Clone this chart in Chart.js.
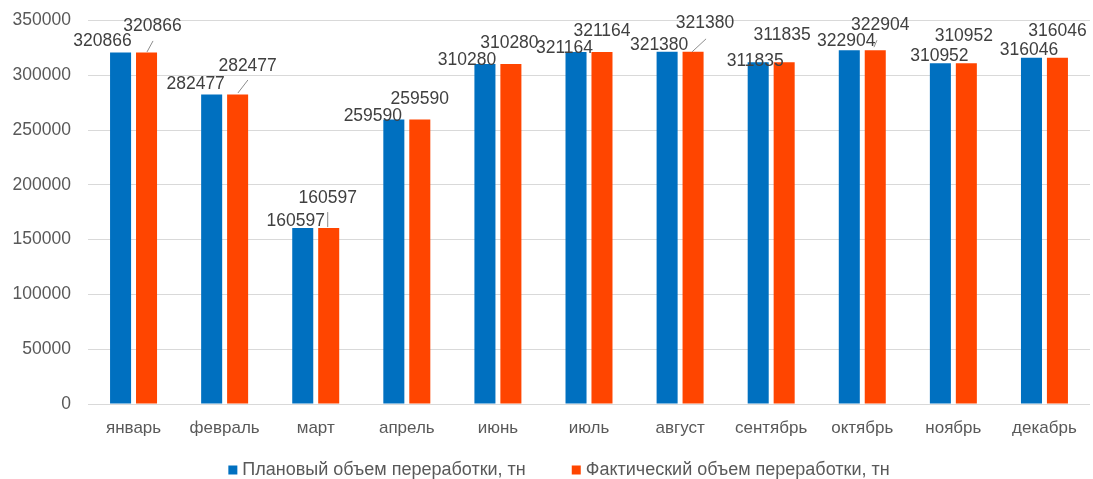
<!DOCTYPE html>
<html lang="ru">
<head>
<meta charset="utf-8">
<title>Объем переработки по месяцам</title>
<script src="https://cdn.jsdelivr.net/npm/chart.js@4.4.1/dist/chart.umd.min.js"></script>
<style>
  html, body { margin: 0; padding: 0; background: #ffffff; }
  #wrap { width: 1093px; height: 479px; position: relative; }
</style>
</head>
<body>
<div id="wrap"><canvas id="chart" width="1093" height="479"></canvas></div>
<script>
// Months shown on the category axis (май is absent in the source table)
const months = ['январь', 'февраль', 'март', 'апрель', 'июнь', 'июль', 'август', 'сентябрь', 'октябрь', 'ноябрь', 'декабрь'];

// Processing volumes, tonnes
const planVolume = [320866, 282477, 160597, 259590, 310280, 321164, 321380, 311835, 322904, 310952, 316046];
const factVolume = [320866, 282477, 160597, 259590, 310280, 321164, 321380, 311835, 322904, 310952, 316046];

// Series names
const seriesNames = ['Плановый объем переработки, тн', 'Фактический объем переработки, тн'];

// Value axis
const yMin = 0;
const yMax = 350000;
const yStep = 50000;

const FONT = '"Liberation Sans", Arial, sans-serif';
const COLORS = ['#0070C0', '#FF4500'];

// Manual label placement (offset of the label centre from the bar top-centre),
// plus optional leader lines, so overlapping labels stay readable.
const labelLayout = [
  // planned series
  {
    offsets: [[-18, -11.5], [-16, -10], [-7, -6.5], [-21, -3], [-18, -4], [-11.5, -4],
              [-8, -7], [-3, -1.5], [-3, -9], [-1, -7], [-2.5, -8]],
    leaders: []
  },
  // actual series
  {
    offsets: [[6, -26.5], [10, -28.5], [-1, -30], [0, -20.5], [-1.5, -21], [0, -20.7],
              [12, -28.4], [-2, -27], [5, -25], [-2.5, -27], [0, -27]],
    leaders: [[6.5, -11.5, 0.5, -0.5], [10.3, -14.5, 0.3, -1.5], [-1, -16, -1, -1], null, null, null,
              [13, -13, -1, 0], null, [1.7, -10, -1.3, -3], null, null]
  }
];

const valueLabels = {
  id: 'valueLabels',
  afterDatasetsDraw(chart) {
    const ctx = chart.ctx;
    ctx.save();
    chart.data.datasets.forEach((ds, di) => {
      const meta = chart.getDatasetMeta(di);
      const layout = labelLayout[di];
      meta.data.forEach((bar, i) => {
        const leader = layout.leaders[i];
        if (leader) {
          ctx.strokeStyle = '#8c8c8c';
          ctx.lineWidth = 1;
          ctx.beginPath();
          ctx.moveTo(bar.x + leader[0], bar.y + leader[1]);
          ctx.lineTo(bar.x + leader[2], bar.y + leader[3]);
          ctx.stroke();
        }
        const off = layout.offsets[i];
        ctx.fillStyle = '#404040';
        ctx.font = '17.5px ' + FONT;
        ctx.textAlign = 'center';
        ctx.textBaseline = 'middle';
        ctx.fillText(String(ds.data[i]), bar.x + off[0], bar.y + off[1]);
      });
    });
    ctx.restore();
  }
};

// Legend drawn under the axis labels
const bottomLegend = {
  id: 'bottomLegend',
  afterDraw(chart) {
    const ctx = chart.ctx;
    ctx.save();
    ctx.font = '18px ' + FONT;
    ctx.textBaseline = 'middle';
    ctx.textAlign = 'left';
    const box = 9, gapText = 5, gapItems = 46;
    const items = chart.data.datasets.map(ds => ({ text: ds.label, color: ds.backgroundColor, w: ctx.measureText(ds.label).width }));
    const total = items.reduce((s, it) => s + box + gapText + it.w, 0) + gapItems * (items.length - 1);
    let x = 559 - total / 2;
    const y = 470;
    items.forEach(it => {
      ctx.fillStyle = it.color;
      ctx.fillRect(x, y - box / 2, box, box);
      ctx.fillStyle = '#595959';
      ctx.fillText(it.text, x + box + gapText, y);
      x += box + gapText + it.w + gapItems;
    });
    ctx.restore();
  }
};

new Chart(document.getElementById('chart'), {
  type: 'bar',
  data: {
    labels: months,
    datasets: [
      { label: seriesNames[0], data: planVolume, backgroundColor: COLORS[0], borderWidth: 0 },
      { label: seriesNames[1], data: factVolume, backgroundColor: COLORS[1], borderWidth: 0 }
    ]
  },
  options: {
    responsive: false,
    animation: false,
    devicePixelRatio: 1,
    layout: { padding: { top: 20.5, right: 3, bottom: 0, left: 0 } },
    datasets: { bar: { categoryPercentage: 0.57, barPercentage: 0.81 } },
    plugins: {
      legend: { display: false },
      tooltip: { enabled: false }
    },
    scales: {
      x: {
        grid: { display: false, drawTicks: false },
        border: { display: false },
        ticks: { color: '#595959', font: { family: FONT, size: 17 }, padding: 14, maxRotation: 0, autoSkip: false },
        afterFit(scale) { scale.height = 75; scale.paddingLeft = 0; scale.paddingRight = 0; }
      },
      y: {
        min: yMin,
        max: yMax,
        ticks: { stepSize: yStep, color: '#595959', font: { family: FONT, size: 17.5 }, padding: 17,
                 callback: v => String(v) },
        grid: { color: '#d9d9d9', lineWidth: 1, drawTicks: false },
        border: { display: false },
        afterFit(scale) { scale.width = 88; scale.paddingTop = 0; scale.paddingBottom = 0; }
      }
    }
  },
  plugins: [valueLabels, bottomLegend]
});
</script>
</body>
</html>
